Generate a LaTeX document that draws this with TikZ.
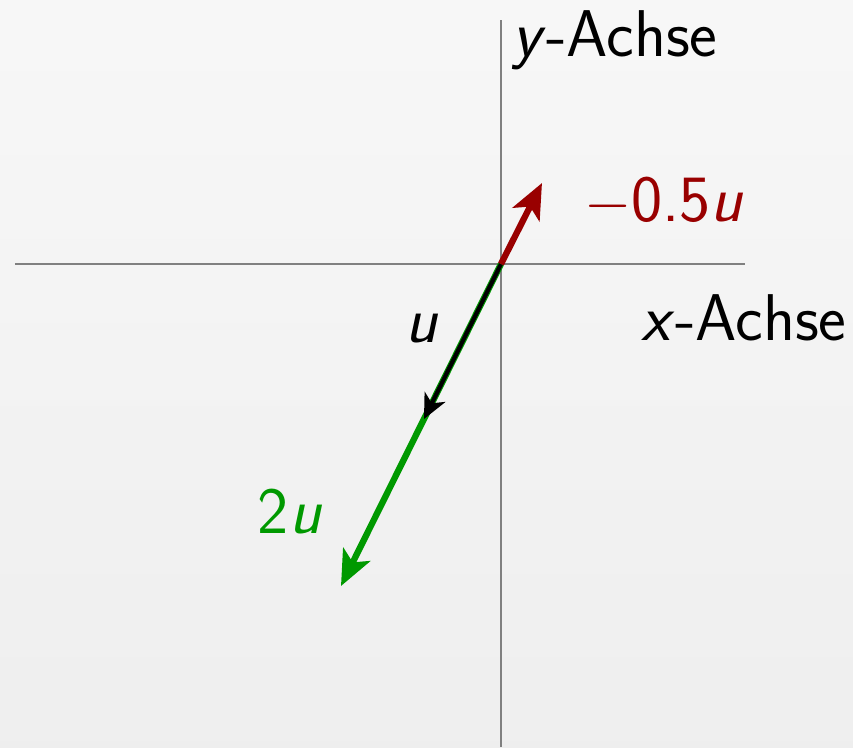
\documentclass[tikz,border=0pt]{standalone}
\usetikzlibrary{arrows.meta,positioning}
\definecolor{vecred}{RGB}{153,0,0}
\definecolor{vecgreen}{RGB}{0,153,0}
\definecolor{axisgray}{RGB}{128,128,128}
\newcommand{\var}[1]{\textit{#1}}
\tikzset{
  >=Stealth,
  axis/.style={draw=axisgray, line width=0.6pt},
  vec/.style={line width=1.8pt, -{Stealth[length=10pt,width=8.5pt,inset=2.5pt]}},
  vecthin/.style={line width=1.2pt, -{Stealth[length=7pt,width=6.5pt,inset=2pt]}},
  lbl/.style={font=\fontsize{18.8}{22}\selectfont\sffamily, inner sep=0pt}
}
\begin{document}
\begin{tikzpicture}[x=0.01cm, y=-0.01cm]
    \shade[top color=gray!6, bottom color=gray!13] (0,0) rectangle (853,747);
    \useasboundingbox (0,0) rectangle (853,747);
    % axes
    \coordinate (O) at (501,264);
    \coordinate (xl) at (15,264);
    \coordinate (xr) at (745,264);
    \coordinate (yt) at (501,20);
    \coordinate (yb) at (501,747);
    \draw[axis] (xl) -- (xr);
    \draw[axis] (yb) -- (yt);
    % vectors
    \coordinate (u) at (424,419);
    \coordinate (2u) at (341,586);
    \coordinate (mhu) at (542,183);
    \draw[vec, vecgreen] (O) -- (2u);
    \draw[vecthin, black] (O) -- (u);
    \draw[vec, vecred] (O) -- (mhu);
    % labels
    \node[lbl] (ylbl) at (615,40) {\var{y}-Achse};
    \node[lbl] (xlbl) at (744,318) {\var{x}-Achse};
    \node[lbl, vecred] (mhulbl) at (664,202) {$-$0.5\var{u}};
    \node[lbl] (ulbl) at (422,329) {\var{u}};
    \node[lbl, vecgreen] (2ulbl) at (290,512) {2\var{u}};
\end{tikzpicture}
\end{document}
